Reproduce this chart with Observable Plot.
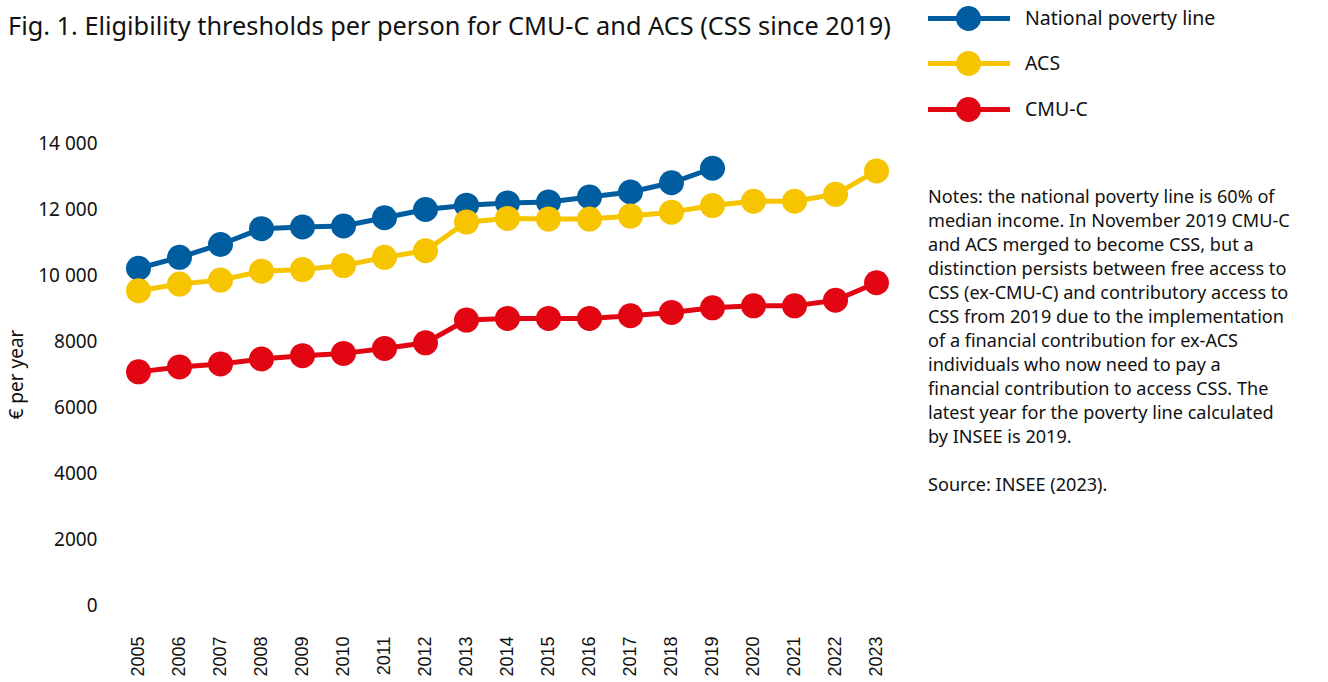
<!DOCTYPE html>
<html>
<head>
<meta charset="utf-8">
<script src="https://cdn.jsdelivr.net/npm/d3@7"></script>
<script src="https://cdn.jsdelivr.net/npm/@observablehq/plot@0.6"></script>
<style>
  body { margin: 0; background: #fff; font-family: "Noto Sans", sans-serif; color: #111; }
  #wrap { position: relative; width: 1328px; height: 682px; overflow: hidden; }
  #title { position: absolute; left: 8px; top: 8px; font-size: 25.3px; white-space: nowrap; }
  #chart { position: absolute; left: 0; top: 0; }
  #legend { position: absolute; left: 928px; top: 0; }
  .li { position: absolute; left: 0; height: 30px; width: 400px; }
  .li .ln { position: absolute; left: 0; top: 13px; width: 82px; height: 5px; }
  .li .dt { position: absolute; left: 28px; top: 3px; width: 25px; height: 25px; border-radius: 50%; }
  .li .tx { position: absolute; left: 97px; top: 1px; font-size: 19.5px; white-space: nowrap; }
  #notes { position: absolute; left: 928px; top: 184px; font-size: 18.1px; line-height: 24px; width: 400px; }
</style>
</head>
<body>
<div id="wrap">
  <div id="chart"></div>
  <div id="title">Fig. 1. Eligibility thresholds per person for CMU-C and ACS (CSS since 2019)</div>
  <div id="legend"></div>
  <div id="notes"></div>
</div>
<script>
const years = [2005, 2006, 2007, 2008, 2009, 2010, 2011, 2012, 2013, 2014, 2015, 2016, 2017, 2018, 2019, 2020, 2021, 2022, 2023];
const povertyYears = [2005, 2006, 2007, 2008, 2009, 2010, 2011, 2012, 2013, 2014, 2015, 2016, 2017, 2018, 2019];
const poverty = [10220, 10550, 10940, 11420, 11470, 11500, 11750, 12000, 12130, 12200, 12230, 12380, 12530, 12810, 13250];
const acs = [9540, 9740, 9860, 10130, 10180, 10300, 10550, 10750, 11620, 11730, 11710, 11710, 11800, 11920, 12120, 12250, 12250, 12460, 13170];
const cmuc = [7080, 7230, 7320, 7470, 7570, 7640, 7790, 7960, 8650, 8700, 8700, 8700, 8780, 8880, 9020, 9080, 9080, 9250, 9780];
const yTicks = [0, 2000, 4000, 6000, 8000, 10000, 12000, 14000];
const seriesNames = ["National poverty line", "ACS", "CMU-C"];
const seriesColors = ["#005DA0", "#F7C400", "#E20613"];
const notesLines = [
  "Notes: the national poverty line is 60% of",
  "median income. In November 2019 CMU-C",
  "and ACS merged to become CSS, but a",
  "distinction persists between free access to",
  "CSS (ex-CMU-C) and contributory access to",
  "CSS from 2019 due to the implementation",
  "of a financial contribution for ex-ACS",
  "individuals who now need to pay a",
  "financial contribution to access CSS. The",
  "latest year for the poverty line calculated",
  "by INSEE is 2019.",
  "",
  "Source: INSEE (2023)."
];

const pov = povertyYears.map((y, i) => ({year: y, value: poverty[i]}));
const acsD = years.map((y, i) => ({year: y, value: acs[i]}));
const cmuD = years.map((y, i) => ({year: y, value: cmuc[i]}));
const series = [pov, acsD, cmuD];

const fmt = d => d >= 10000 ? d3.format(",")(d).replace(/,/g, " ") : String(d);

const marks = [];
series.forEach((s, i) => {
  marks.push(Plot.line(s, {x: "year", y: "value", stroke: seriesColors[i], strokeWidth: 5}));
  marks.push(Plot.dot(s, {x: "year", y: "value", fill: seriesColors[i], r: 12.5, stroke: "none"}));
});

const chart = Plot.plot({
  width: 910,
  height: 682,
  marginLeft: 137,
  marginRight: 33,
  marginTop: 143,
  marginBottom: 77,
  style: {fontFamily: "Noto Sans, sans-serif", fontSize: "19px", color: "#111", background: "transparent", overflow: "visible"},
  x: {type: "point", domain: years, padding: 0},
  y: {domain: [0, 14000]},
  marks: [
    Plot.axisY({ticks: yTicks, tickFormat: fmt, tickSize: 0, tickPadding: 40, label: "€ per year", labelAnchor: "center", labelOffset: 128, labelArrow: "none", fontSize: 19}),
    Plot.axisX({tickRotate: -90, tickSize: 0, tickPadding: 31, label: null, tickFormat: d => String(d), fontFamily: "Liberation Sans, Arial, sans-serif", fontSize: 18}),
    ...marks
  ]
});
document.getElementById("chart").appendChild(chart);

const legend = document.getElementById("legend");
const tops = [3, 48, 94];
seriesNames.forEach((n, i) => {
  const d = document.createElement("div");
  d.className = "li";
  d.style.top = tops[i] + "px";
  d.innerHTML = `<div class="ln" style="background:${seriesColors[i]}"></div><div class="dt" style="background:${seriesColors[i]}"></div><div class="tx">${n}</div>`;
  legend.appendChild(d);
});

const notes = document.getElementById("notes");
notesLines.forEach(l => {
  const d = document.createElement("div");
  d.style.whiteSpace = "nowrap";
  d.style.height = "24px";
  d.textContent = l;
  notes.appendChild(d);
});
</script>
</body>
</html>
